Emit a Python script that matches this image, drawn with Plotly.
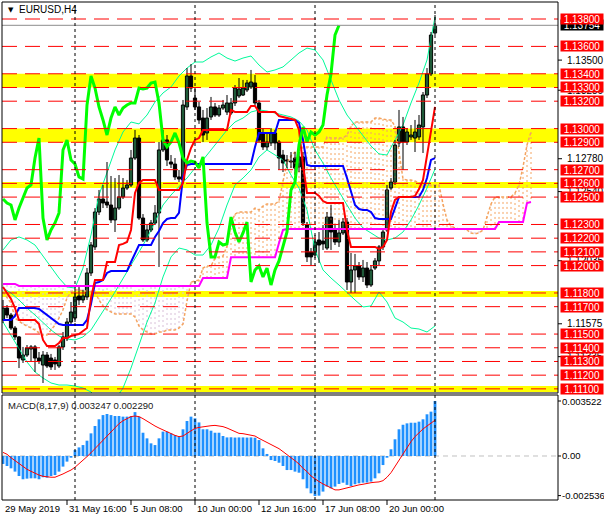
import plotly.graph_objects as go

# ---------------- DATA (EURUSD H4) ----------------
time_ticks = [0, 16, 32, 48, 64, 80, 96]
time_labels = ["29 May 2019", "31 May 16:00", "5 Jun 08:00", "10 Jun 00:00",
               "12 Jun 16:00", "17 Jun 08:00", "20 Jun 00:00"]
week_sep = [18, 48, 78, 108]

open_ = [1.11603,1.11690,1.11639,1.11544,1.11479,1.11311,1.11347,1.11391,1.11406,1.11325,
1.11274,1.11347,1.11325,1.11311,1.11267,1.11406,1.11471,1.11588,1.11617,1.11778,
1.11749,1.11771,1.11946,1.12136,1.12391,1.12486,1.12464,1.12442,1.12333,1.12420,
1.12501,1.12566,1.12588,1.12785,1.12931,1.12347,1.12187,1.12260,1.12311,1.12384,
1.12844,1.12917,1.12756,1.12741,1.12647,1.12625,1.13158,1.13384,1.13223,1.13158,
1.13077,1.12968,1.13085,1.13158,1.13099,1.13150,1.13121,1.13114,1.13187,1.13238,
1.13245,1.13282,1.13304,1.13333,1.13187,1.12968,1.12866,1.12895,1.12968,1.12902,
1.12807,1.12771,1.12763,1.12785,1.12720,1.12793,1.12296,1.12099,1.12077,1.12187,
1.12179,1.12128,1.12354,1.12260,1.12172,1.12238,1.12318,1.11880,1.11968,1.11997,
1.11917,1.11982,1.11858,1.11982,1.12034,1.12136,1.12260,1.12566,1.12610,1.12895,
1.13012,1.12902,1.12939,1.12931,1.12939,1.13012,1.13245,1.13399,1.13698]
high = [1.11749,1.11712,1.11654,1.11559,1.11486,1.11406,1.11420,1.11420,1.11420,1.11369,
1.11376,1.11369,1.11355,1.11333,1.11420,1.11515,1.11617,1.11734,1.11822,1.11858,
1.11822,1.11982,1.12172,1.12420,1.12552,1.12588,1.12756,1.12654,1.12639,1.12661,
1.12639,1.12625,1.12844,1.12990,1.12953,1.12376,1.12296,1.12333,1.12442,1.12902,
1.12990,1.12953,1.12807,1.12785,1.12698,1.13209,1.13442,1.13471,1.13296,1.13194,
1.13136,1.13150,1.13231,1.13187,1.13172,1.13209,1.13245,1.13223,1.13318,1.13369,
1.13355,1.13355,1.13428,1.13391,1.13209,1.13004,1.12975,1.13004,1.12990,1.12917,
1.12844,1.12807,1.12829,1.12829,1.12829,1.12829,1.12318,1.12128,1.12223,1.12245,
1.12296,1.12391,1.12442,1.12296,1.12333,1.12347,1.12347,1.12092,1.12085,1.12026,
1.12041,1.12026,1.12004,1.12055,1.12150,1.12274,1.12588,1.12639,1.12917,1.13136,
1.13085,1.13004,1.13026,1.13063,1.13099,1.13267,1.13442,1.13705,1.13829]
low = [1.11581,1.11617,1.11530,1.11457,1.11252,1.11289,1.11333,1.11296,1.11223,1.11282,
1.11143,1.11252,1.11238,1.11238,1.11252,1.11384,1.11449,1.11559,1.11588,1.11712,
1.11727,1.11749,1.11924,1.12114,1.12369,1.12420,1.12420,1.12311,1.12245,1.12406,
1.12486,1.12552,1.12574,1.12771,1.12333,1.12172,1.12172,1.12245,1.12296,1.11990,
1.12829,1.12727,1.12712,1.12625,1.12610,1.12603,1.13136,1.13267,1.13136,1.13034,
1.12902,1.12917,1.13063,1.13085,1.13085,1.13136,1.13099,1.13099,1.13165,1.13223,
1.13238,1.13267,1.13289,1.13172,1.12902,1.12844,1.12844,1.12873,1.12844,1.12698,
1.12683,1.12712,1.12712,1.12661,1.12683,1.12289,1.12026,1.11997,1.12055,1.12019,
1.12114,1.12114,1.12114,1.12150,1.12136,1.12223,1.11822,1.11800,1.11800,1.11895,
1.11880,1.11836,1.11844,1.11968,1.12004,1.12114,1.12245,1.12552,1.12588,1.12866,
1.12698,1.12880,1.12917,1.12829,1.12917,1.12822,1.13223,1.13384,1.13683]
close = [1.11690,1.11639,1.11544,1.11479,1.11325,1.11347,1.11398,1.11406,1.11325,1.11303,
1.11347,1.11267,1.11260,1.11282,1.11406,1.11479,1.11588,1.11661,1.11771,1.11749,
1.11778,1.11946,1.12150,1.12391,1.12486,1.12457,1.12442,1.12333,1.12420,1.12501,
1.12566,1.12588,1.12785,1.12931,1.12347,1.12187,1.12260,1.12311,1.12384,1.12844,
1.12917,1.12771,1.12741,1.12647,1.12632,1.13172,1.13384,1.13296,1.13158,1.13063,
1.12953,1.13077,1.13158,1.13099,1.13150,1.13172,1.13187,1.13187,1.13296,1.13289,
1.13296,1.13333,1.13340,1.13187,1.12917,1.12866,1.12902,1.12968,1.12895,1.12785,
1.12749,1.12763,1.12756,1.12712,1.12793,1.12311,1.12063,1.12063,1.12172,1.12150,
1.12158,1.12354,1.12245,1.12172,1.12238,1.12318,1.11880,1.11968,1.11997,1.11917,
1.11982,1.11858,1.11968,1.12034,1.12136,1.12245,1.12552,1.12610,1.12880,1.13012,
1.12902,1.12975,1.12953,1.12975,1.13026,1.13245,1.13399,1.13683,1.13754]

tenkan = [1.11844,1.11800,1.11756,1.11690,1.11603,1.11603,1.11603,1.11603,1.11603,1.11573,
1.11457,1.11413,1.11413,1.11413,1.11435,1.11471,1.11471,1.11486,1.11493,1.11500,
1.11522,1.11544,1.11763,1.11895,1.11895,1.11895,1.12026,1.12026,1.12026,1.12150,
1.12158,1.12172,1.12260,1.12530,1.12603,1.12625,1.12625,1.12625,1.12625,1.12552,
1.12552,1.12552,1.12552,1.12552,1.12552,1.12603,1.12771,1.12858,1.12917,1.12931,
1.12990,1.12990,1.12990,1.12990,1.12990,1.12990,1.12990,1.13136,1.13121,1.13121,
1.13121,1.13121,1.13165,1.13165,1.13121,1.13121,1.13121,1.13121,1.13121,1.13092,
1.13085,1.13077,1.13070,1.13063,1.12990,1.12734,1.12530,1.12530,1.12530,1.12508,
1.12471,1.12457,1.12457,1.12457,1.12457,1.12457,1.12260,1.12136,1.12136,1.12136,
1.12136,1.12136,1.12136,1.12136,1.12121,1.12136,1.12187,1.12391,1.12479,1.12501,
1.12501,1.12501,1.12501,1.12508,1.12559,1.12625,1.12807,1.12990,1.13158]
kijun = [1.11603,1.11603,1.11603,1.11632,1.11690,1.11690,1.11690,1.11690,1.11690,1.11683,
1.11661,1.11639,1.11617,1.11596,1.11573,1.11566,1.11566,1.11566,1.11566,1.11566,
1.11566,1.11603,1.11720,1.11873,1.11880,1.11895,1.11946,1.11960,1.11960,1.11960,
1.11960,1.11960,1.12026,1.12092,1.12150,1.12150,1.12150,1.12150,1.12209,1.12252,
1.12311,1.12340,1.12347,1.12347,1.12384,1.12647,1.12734,1.12741,1.12741,1.12741,
1.12741,1.12741,1.12741,1.12741,1.12741,1.12741,1.12741,1.12741,1.12741,1.12741,
1.12741,1.12741,1.12741,1.12866,1.12968,1.12968,1.12968,1.12968,1.12968,1.13063,
1.13063,1.13063,1.13063,1.13063,1.13041,1.12917,1.12734,1.12727,1.12727,1.12727,
1.12727,1.12727,1.12727,1.12727,1.12727,1.12727,1.12639,1.12537,1.12442,1.12413,
1.12406,1.12406,1.12391,1.12347,1.12340,1.12340,1.12340,1.12340,1.12420,1.12501,
1.12501,1.12501,1.12501,1.12501,1.12501,1.12552,1.12639,1.12771,1.12785]
chikou = [1.12486,1.12457,1.12442,1.12333,1.12420,1.12501,1.12566,1.12588,1.12785,1.12931,
1.12347,1.12187,1.12260,1.12311,1.12384,1.12844,1.12917,1.12771,1.12741,1.12647,
1.12632,1.13172,1.13384,1.13296,1.13158,1.13063,1.12953,1.13077,1.13158,1.13099,
1.13150,1.13172,1.13187,1.13187,1.13296,1.13289,1.13296,1.13333,1.13340,1.13187,
1.12917,1.12866,1.12902,1.12968,1.12895,1.12785,1.12749,1.12763,1.12756,1.12712,
1.12793,1.12311,1.12063,1.12063,1.12172,1.12150,1.12158,1.12354,1.12245,1.12172,
1.12238,1.12318,1.11880,1.11968,1.11997,1.11917,1.11982,1.11858,1.11968,1.12034,
1.12136,1.12245,1.12552,1.12610,1.12880,1.13012,1.12902,1.12975,1.12953,1.12975,
1.13026,1.13245,1.13399,1.13683,1.13754]
span_a = [1.11807,1.11771,1.11727,1.11617,1.11596,1.11573,1.11559,1.11544,1.11530,1.11508,
1.11493,1.11493,1.11530,1.11566,1.11617,1.11676,1.11763,1.11807,1.11822,1.11822,
1.11815,1.11815,1.11807,1.11807,1.11749,1.11705,1.11676,1.11661,1.11647,1.11647,
1.11647,1.11647,1.11647,1.11625,1.11559,1.11530,1.11515,1.11500,1.11500,1.11515,
1.11515,1.11530,1.11530,1.11530,1.11544,1.11573,1.11741,1.11880,1.11887,1.11895,
1.11982,1.11997,1.11997,1.12055,1.12063,1.12070,1.12143,1.12311,1.12376,1.12391,
1.12391,1.12391,1.12391,1.12420,1.12406,1.12435,1.12450,1.12450,1.12450,1.12471,
1.12625,1.12756,1.12800,1.12829,1.12836,1.12866,1.12866,1.12866,1.12866,1.12866,
1.12866,1.12939,1.12931,1.12931,1.12931,1.12931,1.12953,1.13019,1.13048,1.13048,
1.13048,1.13048,1.13048,1.13077,1.13077,1.13070,1.13063,1.13063,1.13019,1.12829,
1.12632,1.12625,1.12625,1.12617,1.12603,1.12588,1.12588,1.12588,1.12588,1.12588,
1.12450,1.12333,1.12289,1.12274,1.12267,1.12267,1.12260,1.12238,1.12231,1.12238,
1.12260,1.12362,1.12450,1.12501,1.12501,1.12501,1.12501,1.12501,1.12530,1.12588,
1.12720,1.12880,1.12975]
span_b = [1.11866,1.11866,1.11866,1.11866,1.11851,1.11851,1.11851,1.11851,1.11851,1.11851,
1.11851,1.11851,1.11851,1.11851,1.11851,1.11851,1.11851,1.11851,1.11851,1.11851,
1.11851,1.11851,1.11851,1.11851,1.11851,1.11851,1.11851,1.11851,1.11851,1.11851,
1.11851,1.11851,1.11851,1.11851,1.11851,1.11851,1.11851,1.11851,1.11851,1.11851,
1.11851,1.11851,1.11851,1.11851,1.11851,1.11851,1.11851,1.11851,1.11851,1.11851,
1.11909,1.11909,1.11909,1.11909,1.11909,1.11909,1.11909,1.12060,1.12060,1.12060,
1.12060,1.12060,1.12060,1.12060,1.12060,1.12060,1.12060,1.12060,1.12060,1.12165,
1.12260,1.12267,1.12267,1.12267,1.12267,1.12267,1.12267,1.12267,1.12267,1.12267,
1.12267,1.12267,1.12267,1.12267,1.12267,1.12267,1.12267,1.12267,1.12267,1.12267,
1.12267,1.12267,1.12267,1.12267,1.12267,1.12267,1.12267,1.12267,1.12267,1.12267,
1.12267,1.12267,1.12267,1.12267,1.12267,1.12267,1.12267,1.12267,1.12267,1.12267,
1.12267,1.12267,1.12267,1.12267,1.12267,1.12267,1.12267,1.12267,1.12267,1.12267,
1.12267,1.12267,1.12267,1.12267,1.12318,1.12318,1.12318,1.12318,1.12318,1.12318,
1.12318,1.12457,1.12464]

bb_idx = list(range(0, 109, 2))
bb_upper = [1.12114,1.12187,1.12209,1.12187,1.12150,1.12070,1.11997,1.11909,1.11844,1.11836,
1.11982,1.12223,1.12515,1.12676,1.12844,1.12975,1.13048,1.13034,1.13099,1.13194,
1.13260,1.13304,1.13384,1.13442,1.13486,1.13486,1.13523,1.13552,1.13515,1.13493,
1.13515,1.13530,1.13464,1.13413,1.13428,1.13450,1.13501,1.13552,1.13588,1.13574,
1.13501,1.13355,1.13209,1.13099,1.13026,1.12953,1.12873,1.12815,1.12807,1.12917,
1.13026,1.13187,1.13333,1.13501,1.13815]
bb_mid = [1.11836,1.11800,1.11749,1.11690,1.11639,1.11581,1.11530,1.11486,1.11464,1.11457,
1.11479,1.11530,1.11617,1.11712,1.11807,1.11909,1.12004,1.12099,1.12201,1.12318,
1.12442,1.12515,1.12574,1.12639,1.12712,1.12771,1.12844,1.12917,1.12990,1.13048,
1.13077,1.13121,1.13136,1.13128,1.13114,1.13099,1.13085,1.13055,1.12990,1.12844,
1.12749,1.12639,1.12537,1.12442,1.12347,1.12274,1.12238,1.12201,1.12187,1.12201,
1.12245,1.12333,1.12442,1.12566,1.12705]
bb_lower = [1.11588,1.11493,1.11398,1.11296,1.11223,1.11179,1.11143,1.11128,1.11128,1.11121,
1.11106,1.11077,1.11019,1.10946,1.11019,1.11106,1.11252,1.11420,1.11588,1.11727,
1.11917,1.12063,1.12128,1.12114,1.12077,1.12077,1.12150,1.12274,1.12442,1.12588,
1.12639,1.12698,1.12793,1.12844,1.12807,1.12771,1.12661,1.12566,1.12406,1.12114,
1.11968,1.11909,1.11858,1.11800,1.11749,1.11698,1.11705,1.11807,1.11734,1.11617,
1.11588,1.11544,1.11537,1.11515,1.11559]

macd = [-0.00051,-0.00064,-0.00079,-0.00100,-0.00128,-0.00149,-0.00145,-0.00143,-0.00143,-0.00149,
-0.00136,-0.00139,-0.00128,-0.00122,-0.00100,-0.00068,-0.00036,-0.00011,0.00038,0.00055,
0.00070,0.00098,0.00145,0.00192,0.00235,0.00262,0.00269,0.00262,0.00256,0.00256,
0.00252,0.00252,0.00256,0.00281,0.00252,0.00149,0.00113,0.00081,0.00070,0.00113,
0.00156,0.00156,0.00145,0.00134,0.00124,0.00171,0.00224,0.00252,0.00241,0.00215,
0.00171,0.00171,0.00162,0.00149,0.00149,0.00128,0.00119,0.00120,0.00118,0.00119,
0.00119,0.00118,0.00119,0.00117,0.00102,0.00049,0.00013,-0.00026,-0.00032,-0.00043,
-0.00064,-0.00090,-0.00090,-0.00100,-0.00107,-0.00149,-0.00207,-0.00239,-0.00256,-0.00254,
-0.00228,-0.00196,-0.00207,-0.00196,-0.00179,-0.00171,-0.00185,-0.00192,-0.00181,-0.00175,
-0.00171,-0.00170,-0.00164,-0.00143,-0.00111,-0.00058,-0.00011,0.00043,0.00107,0.00171,
0.00200,0.00209,0.00213,0.00213,0.00220,0.00235,0.00267,0.00284,0.00352]
signal = [0.00023,0.00011,-0.00011,-0.00030,-0.00051,-0.00070,-0.00085,-0.00098,-0.00111,-0.00122,
-0.00130,-0.00134,-0.00136,-0.00136,-0.00128,-0.00115,-0.00102,-0.00090,-0.00072,-0.00051,
-0.00030,-0.00004,0.00021,0.00047,0.00075,0.00102,0.00130,0.00156,0.00183,0.00207,
0.00226,0.00241,0.00252,0.00256,0.00252,0.00239,0.00222,0.00205,0.00192,0.00179,
0.00166,0.00154,0.00143,0.00132,0.00124,0.00128,0.00145,0.00162,0.00177,0.00183,
0.00188,0.00190,0.00194,0.00196,0.00194,0.00188,0.00179,0.00166,0.00154,0.00145,
0.00143,0.00139,0.00134,0.00128,0.00113,0.00100,0.00085,0.00075,0.00064,0.00047,
0.00028,0.00006,-0.00011,-0.00030,-0.00051,-0.00079,-0.00100,-0.00128,-0.00149,-0.00164,
-0.00179,-0.00192,-0.00205,-0.00217,-0.00217,-0.00211,-0.00200,-0.00194,-0.00190,-0.00185,
-0.00181,-0.00175,-0.00171,-0.00168,-0.00166,-0.00158,-0.00136,-0.00107,-0.00068,-0.00026,
0.00017,0.00055,0.00092,0.00124,0.00151,0.00173,0.00192,0.00211,0.00229]

level_lines = [1.138, 1.136, 1.134, 1.133, 1.132, 1.130, 1.129, 1.127, 1.126, 1.125,
               1.123, 1.122, 1.121, 1.120, 1.118, 1.117, 1.115, 1.114, 1.113, 1.112, 1.111]
yellow_zones = [(1.1330, 1.1340), (1.1290, 1.1300), (1.12566, 1.12610),
                (1.11771, 1.11815), (1.11077, 1.11121)]
last_price = 1.13754
scale_labels = [1.13500, 1.13280, 1.12780, 1.12540, 1.12035, 1.11575, 1.11335]
macd_scale = [(0.003522, "0.003522"), (0.0, "0.00"), (-0.002536, "-0.002536")]
macd_title = "MACD(8,17,9) 0.003247 0.002290"
symbol_title = "EURUSD,H4"

# ---------------- FIGURE ----------------
W, H = 604, 521
ML, MR, MT, MB = 2, 46, 2, 21
PW, PH = W - ML - MR, H - MT - MB
main_dom = [(500 - 393) / PH, 1.0]
macd_dom = [0.0, (500 - 395) / PH]
XR = [-0.25, 138.75]
YR = [1.110698, 1.139241]
Y2R = [-0.002818, 0.003906]
FONT = "Liberation Sans, Arial, sans-serif"

fig = go.Figure()
n = len(close)
idx = list(range(n))

# cloud hatch
hx_up, hy_up, hx_dn, hy_dn = [], [], [], []
for i, (a, b) in enumerate(zip(span_a, span_b)):
    if a >= b:
        hx_up += [i, i, None]; hy_up += [a, b, None]
    else:
        hx_dn += [i, i, None]; hy_dn += [a, b, None]
fig.add_trace(go.Scatter(x=hx_up, y=hy_up, mode="lines", hoverinfo="skip",
                         line=dict(color="#F4A460", width=1, dash="2px,3px")))
fig.add_trace(go.Scatter(x=hx_dn, y=hy_dn, mode="lines", hoverinfo="skip",
                         line=dict(color="#D8BFD8", width=1, dash="2px,3px")))
fig.add_trace(go.Scatter(x=list(range(len(span_a))), y=span_a, mode="lines", hoverinfo="skip",
                         line=dict(color="#F4A460", width=1.5, dash="3px,2px")))

# Bollinger bands
for arr in (bb_upper, bb_mid, bb_lower):
    fig.add_trace(go.Scatter(x=bb_idx, y=arr, mode="lines", hoverinfo="skip",
                             line=dict(color="#00FA9A", width=1)))

# candles
wx, wy = [], []
for i in idx:
    wx += [i, i, None]; wy += [low[i], high[i], None]
fig.add_trace(go.Scatter(x=wx, y=wy, mode="lines", hoverinfo="skip",
                         line=dict(color="black", width=1)))
body_col = ["#3CB371" if c >= o else "black" for o, c in zip(open_, close)]
fig.add_trace(go.Bar(x=idx, y=[c - o for o, c in zip(open_, close)], base=open_,
                     width=0.8, marker=dict(color=body_col, line=dict(color="black", width=1)),
                     hoverinfo="skip"))

# ichimoku lines
fig.add_trace(go.Scatter(x=list(range(len(span_b))), y=span_b, mode="lines", hoverinfo="skip",
                         line=dict(color="#FF00FF", width=2)))
fig.add_trace(go.Scatter(x=idx, y=kijun, mode="lines", hoverinfo="skip",
                         line=dict(color="#0000FF", width=2)))
fig.add_trace(go.Scatter(x=idx, y=tenkan, mode="lines", hoverinfo="skip",
                         line=dict(color="#FF0000", width=2)))
fig.add_trace(go.Scatter(x=list(range(len(chikou))), y=chikou, mode="lines", hoverinfo="skip",
                         line=dict(color="#00FF00", width=3)))

# MACD
fig.add_trace(go.Bar(x=idx, y=macd, xaxis="x2", yaxis="y2", width=0.7,
                     marker=dict(color="#1E90FF", line=dict(width=0)), hoverinfo="skip"))
fig.add_trace(go.Scatter(x=idx, y=signal, xaxis="x2", yaxis="y2", mode="lines",
                         hoverinfo="skip", line=dict(color="#FF0000", width=1)))

shapes = []
for lo, hi in yellow_zones:
    shapes.append(dict(type="rect", xref="paper", yref="y", x0=0, x1=1, y0=lo, y1=hi,
                       fillcolor="#FFFF00", line=dict(width=0), layer="below"))
for lv in level_lines:
    shapes.append(dict(type="line", xref="paper", yref="y", x0=0, x1=1, y0=lv, y1=lv,
                       line=dict(color="#FF0000", width=1, dash="15px,8px"), layer="above"))
shapes.append(dict(type="line", xref="paper", yref="y", x0=0, x1=1, y0=last_price, y1=last_price,
                   line=dict(color="#8C8C8C", width=1), layer="above"))
for s in week_sep:
    shapes.append(dict(type="line", xref="x", yref="paper", x0=s, x1=s, y0=0, y1=1,
                       line=dict(color="black", width=1, dash="3px,3px"), layer="above"))
shapes.append(dict(type="line", xref="paper", yref="y2", x0=0, x1=1, y0=0, y1=0,
                   line=dict(color="#C0C0C0", width=1, dash="5px,4px"), layer="below"))
shapes.append(dict(type="rect", xref="paper", yref="paper", x0=0, x1=1, y0=main_dom[0], y1=1,
                   line=dict(color="black", width=1), layer="above"))
shapes.append(dict(type="rect", xref="paper", yref="paper", x0=0, x1=1, y0=0, y1=macd_dom[1],
                   line=dict(color="black", width=1), layer="above"))
for t in time_ticks[1:]:
    shapes.append(dict(type="line", xref="x2", yref="paper", x0=t, x1=t, y0=0, y1=-5 / PH,
                       line=dict(color="black", width=1)))
for v in scale_labels:
    shapes.append(dict(type="line", xref="paper", yref="y", x0=1, x1=1 + 4 / PW, y0=v, y1=v,
                       line=dict(color="black", width=1)))
for v, _ in macd_scale:
    shapes.append(dict(type="line", xref="paper", yref="y2", x0=1, x1=1 + 3 / PW, y0=v, y1=v,
                       line=dict(color="black", width=1)))

ann = []
def px_x(px):
    return (px - ML) / PW
def px_y(py):
    return (H - MB - py) / PH

for v in scale_labels:
    ann.append(dict(xref="paper", yref="y", x=px_x(565), y=v, xanchor="left", yanchor="middle",
                    text=f"{v:.5f}", showarrow=False, font=dict(family=FONT, size=10, color="black")))
ann.append(dict(xref="paper", yref="y", x=px_x(560), y=last_price, xanchor="left", yanchor="middle",
                text=f"{last_price:.5f}", showarrow=False, bgcolor="black", width=42, height=10,
                borderpad=0, font=dict(family=FONT, size=10, color="white")))
for lv in level_lines:
    ann.append(dict(xref="paper", yref="y", x=px_x(560), y=lv, xanchor="left", yanchor="middle",
                    text=f"{lv:.5f}", showarrow=False, bgcolor="#FF0000", width=42, height=10,
                    borderpad=0, font=dict(family=FONT, size=10, color="white")))
for v, t in macd_scale:
    ann.append(dict(xref="paper", yref="y2", x=px_x(560), y=v, xanchor="left", yanchor="middle",
                    text=t, showarrow=False, font=dict(family=FONT, size=9.5, color="black")))
for t, lab in zip(time_ticks, time_labels):
    ann.append(dict(xref="x2", yref="paper", x=t, y=px_y(508), xanchor="left", yanchor="middle",
                    text=lab, showarrow=False, font=dict(family=FONT, size=9.5, color="black")))
ann.append(dict(xref="paper", yref="paper", x=px_x(6), y=px_y(10), xanchor="left", yanchor="middle",
                text="▼", showarrow=False, font=dict(family="DejaVu Sans", size=7, color="black")))
ann.append(dict(xref="paper", yref="paper", x=px_x(17), y=px_y(10), xanchor="left", yanchor="middle",
                text=symbol_title, showarrow=False, font=dict(family=FONT, size=10, color="black")))
ann.append(dict(xref="paper", yref="paper", x=px_x(6), y=px_y(405), xanchor="left", yanchor="middle",
                text=macd_title, showarrow=False, font=dict(family=FONT, size=9.5, color="#202020")))

fig.update_layout(
    width=W, height=H, margin=dict(l=ML, r=MR, t=MT, b=MB, pad=0),
    paper_bgcolor="white", plot_bgcolor="white", showlegend=False, barmode="overlay",
    hovermode=False,
    xaxis=dict(domain=[0, 1], range=XR, anchor="y", visible=False),
    yaxis=dict(domain=main_dom, range=YR, anchor="x", visible=False),
    xaxis2=dict(domain=[0, 1], range=XR, anchor="y2", visible=False),
    yaxis2=dict(domain=macd_dom, range=Y2R, anchor="x2", visible=False),
    shapes=shapes, annotations=ann,
)
fig.write_html("out.html", config={"displayModeBar": False, "staticPlot": True},
               post_script="document.body.style.margin='0px';document.body.style.overflow='hidden';")
